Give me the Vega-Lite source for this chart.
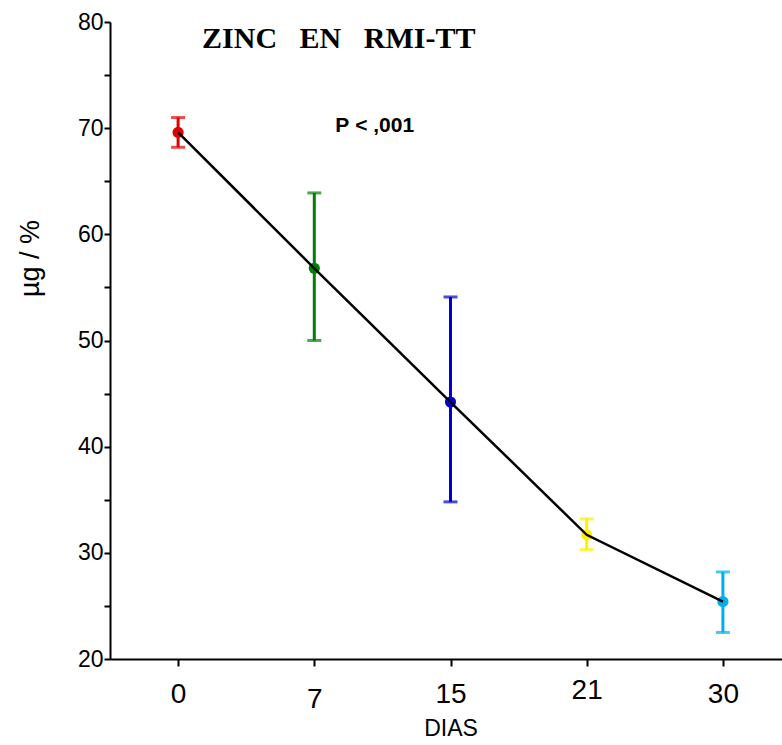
{
  "$schema": "https://vega.github.io/schema/vega-lite/v6.json",
  "width": 681,
  "height": 637,
  "autosize": {"type": "none"},
  "padding": {"left": 110, "top": 22, "right": 0, "bottom": 86},
  "background": "white",
  "config": {"view": {"stroke": null}, "font": "Liberation Sans"},
  "datasets": {
    "stats": [
      {"dia": "0", "mean": 69.6, "lo": 68.2, "hi": 71.0},
      {"dia": "7", "mean": 56.8, "lo": 50.0, "hi": 63.9},
      {"dia": "15", "mean": 44.2, "lo": 34.8, "hi": 54.1},
      {"dia": "21", "mean": 31.7, "lo": 30.3, "hi": 33.2},
      {"dia": "30", "mean": 25.4, "lo": 22.5, "hi": 28.2}
    ],
    "titleNote": [{"dia": "0", "y": 77.55, "label": "ZINC\u00a0\u00a0\u00a0EN\u00a0\u00a0\u00a0RMI-TT"}],
    "pNote": [{"dia": "7", "y": 69.64, "label": "P\u00a0<\u00a0,001"}]
  },
  "data": {"name": "stats"},
  "encoding": {
    "x": {
      "field": "dia",
      "type": "ordinal",
      "sort": ["0", "7", "15", "21", "30"],
      "scale": {"type": "point", "padding": 0.5},
      "axis": {
        "title": "DIAS",
        "labelAngle": 0,
        "labelFont": "Liberation Sans",
        "labelFontSize": 28,
        "labelColor": "black",
        "labelBaseline": "top",
        "labelPadding": {"expr": "datum.value == '7' ? 19 : datum.value == '21' ? 10 : 14"},
        "tickSize": 7,
        "tickWidth": 2,
        "tickColor": "black",
        "domainColor": "black",
        "domainWidth": 2,
        "titleFont": "Liberation Sans",
        "titleFontSize": 23,
        "titleFontWeight": "normal",
        "titleColor": "black",
        "titleY": 76,
        "titleBaseline": "alphabetic",
        "grid": false
      }
    },
    "y": {
      "field": "mean",
      "type": "quantitative",
      "scale": {"domain": [20, 80], "nice": false, "zero": false},
      "axis": {
        "title": "µg / %",
        "values": [20, 25, 30, 35, 40, 45, 50, 55, 60, 65, 70, 75, 80],
        "labelExpr": "datum.value % 10 == 0 ? datum.label : ''",
        "labelFont": "Liberation Sans",
        "labelFontSize": 23,
        "labelColor": "black",
        "labelPadding": 1,
        "tickSize": 6,
        "tickWidth": 2,
        "tickColor": "black",
        "domainColor": "black",
        "domainWidth": 2,
        "titleFont": "Liberation Sans",
        "titleFontSize": 27,
        "titleFontWeight": "normal",
        "titleColor": "black",
        "titleX": -80,
        "titleY": 236,
        "titleAngle": -90,
        "titleAlign": "center",
        "titleBaseline": "middle",
        "grid": false
      }
    }
  },
  "layer": [
    {
      "mark": {"type": "errorbar", "thickness": 3, "ticks": {"size": 14, "thickness": 3}},
      "encoding": {
        "y": {"field": "lo", "type": "quantitative", "title": "µg / %"},
        "y2": {"field": "hi"},
        "color": {
          "field": "dia",
          "type": "nominal",
          "scale": {"domain": ["0", "7", "15", "21", "30"], "range": ["#e10000", "#008000", "#0000d0", "#fff000", "#00aeef"]},
          "legend": null
        }
      }
    },
    {
      "mark": {"type": "circle", "size": 125, "opacity": 1},
      "encoding": {
        "color": {
          "field": "dia",
          "type": "nominal",
          "scale": {"domain": ["0", "7", "15", "21", "30"], "range": ["#e10000", "#008000", "#0000d0", "#fff000", "#00aeef"]},
          "legend": null
        }
      }
    },
    {
      "mark": {"type": "line", "color": "black", "strokeWidth": 2.5},
      "encoding": {}
    },
    {
      "data": {"name": "titleNote"},
      "mark": {"type": "text", "align": "left", "baseline": "alphabetic", "dx": 24, "font": "Liberation Serif", "fontSize": 30, "fontWeight": "bold", "color": "black"},
      "encoding": {
        "y": {"field": "y", "type": "quantitative", "title": "µg / %"},
        "text": {"field": "label"}
      }
    },
    {
      "data": {"name": "pNote"},
      "mark": {"type": "text", "align": "left", "baseline": "alphabetic", "dx": 21, "font": "Liberation Sans", "fontSize": 21, "fontWeight": "bold", "color": "black"},
      "encoding": {
        "y": {"field": "y", "type": "quantitative", "title": "µg / %"},
        "text": {"field": "label"}
      }
    }
  ]
}
